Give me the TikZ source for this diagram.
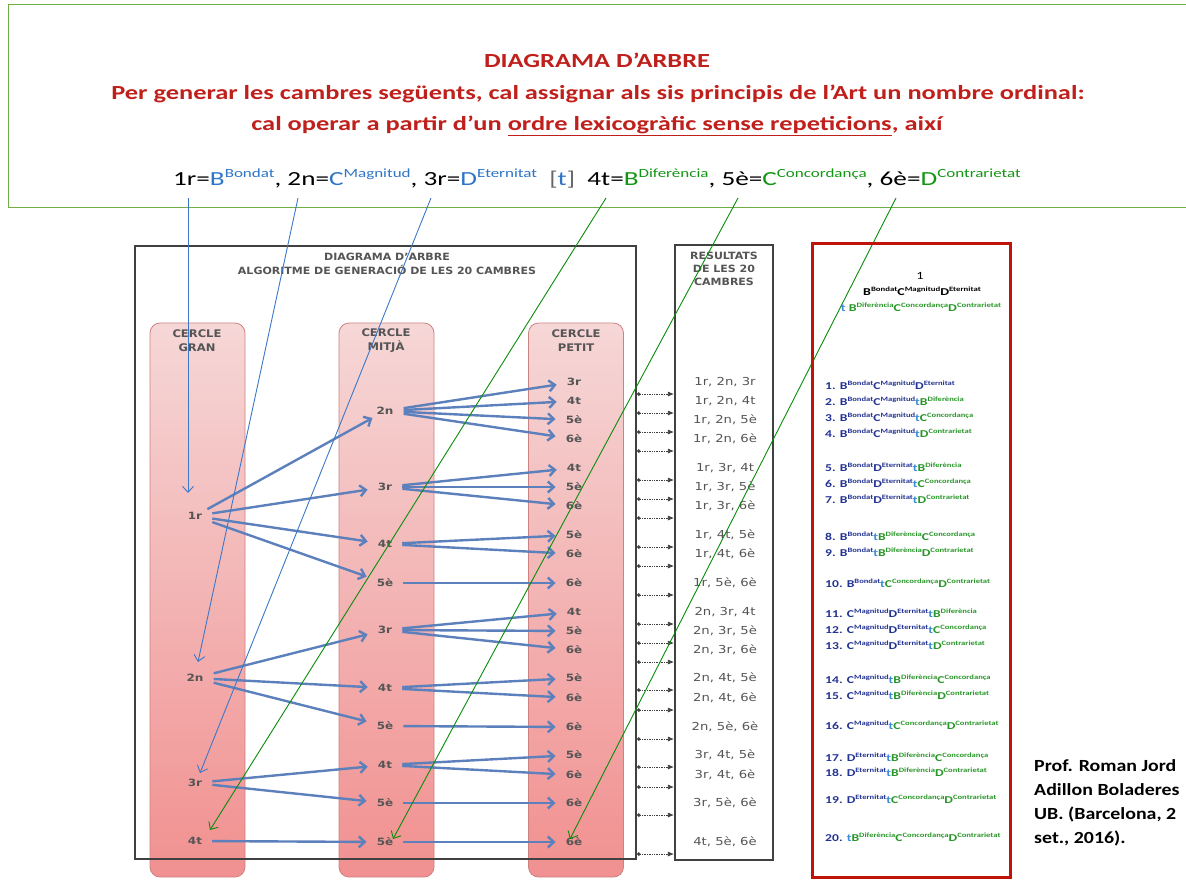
\documentclass[tikz,border=0pt]{standalone}
\usepackage{graphicx}
\usepackage{fontspec}
\setmainfont{Carlito}
\newfontfamily\scanfont{DejaVu Sans}
\usetikzlibrary{arrows.meta,calc}
\definecolor{titred}{RGB}{192,32,28}
\definecolor{frgreen}{RGB}{112,173,71}
\definecolor{hblue}{RGB}{46,117,200}
\definecolor{hgreen}{RGB}{20,150,20}
\definecolor{navy}{RGB}{36,52,146}
\definecolor{tblue}{RGB}{60,140,215}
\definecolor{lgreen}{RGB}{40,150,40}
\definecolor{scangray}{RGB}{85,85,85}
\definecolor{sblue}{RGB}{92,128,188}
\definecolor{pinktop}{RGB}{246,212,212}
\definecolor{pinkbot}{RGB}{240,135,135}
\definecolor{pinkedge}{RGB}{205,130,130}
\definecolor{redbox}{RGB}{192,20,10}
\definecolor{ovgreen}{RGB}{10,140,10}
\definecolor{ovblue}{RGB}{60,120,200}
\newcommand\sx[2]{\scalebox{#1}[1]{#2}}
% superscripts
\newcommand\hsup[1]{\raisebox{0.4em}{\fontsize{12.5}{13}\selectfont #1}}
\newcommand\lsup[1]{\raisebox{0.38em}{\fontsize{6.6}{7}\selectfont #1}}
\newcommand\pB{\textcolor{navy}{B\lsup{Bondat}}}
\newcommand\pC{\textcolor{navy}{C\lsup{Magnitud}}}
\newcommand\pD{\textcolor{navy}{D\lsup{Eternitat}}}
\newcommand\tT{\textcolor{tblue}{t}}
\newcommand\qB{\textcolor{lgreen}{B\lsup{Diferència}}}
\newcommand\qC{\textcolor{lgreen}{C\lsup{Concordança}}}
\newcommand\qD{\textcolor{lgreen}{D\lsup{Contrarietat}}}
\begin{document}
\begin{tikzpicture}[x=1pt,y=-1pt,
  titl/.style={anchor=base,text=titred,font=\fontsize{20}{24}\selectfont\bfseries,inner sep=0pt},
  hdr/.style={anchor=base,font=\fontsize{20}{24}\selectfont,inner sep=0pt},
  col/.style={draw=pinkedge,line width=0.8pt,rounded corners=10pt,top color=pinktop,bottom color=pinkbot,minimum width=95pt,minimum height=554pt,inner sep=0pt,fill opacity=0.92},
  colhd/.style={text=scangray,font=\scanfont\fontsize{10.5}{14}\selectfont\bfseries,align=center,inner sep=0pt},
  lab/.style={text=scangray,font=\scanfont\fontsize{10}{10}\selectfont\bfseries,inner xsep=10pt,inner ysep=3pt},
  res/.style={text=scangray,font=\scanfont\fontsize{11}{11}\selectfont,inner sep=1pt},
  barrow/.style={draw=sblue,line width=2.4pt,-{Straight Barb[length=6pt,width=11pt]}},
  darrow/.style={draw=black!75,line width=0.7pt,densely dotted,{Circle[length=3.5pt]}-{Latex[length=6pt,width=5pt]}},
  ovb/.style={draw=ovblue,line width=0.9pt,-{Straight Barb[length=6pt,width=11pt]}},
  ovg/.style={draw=ovgreen,line width=0.9pt,-{Straight Barb[length=6pt,width=11pt]}},
  item/.style={anchor=west,font=\fontsize{10.5}{12}\selectfont\bfseries,text=navy,inner sep=0pt},
  auth/.style={anchor=base west,font=\fontsize{17}{20}\selectfont\bfseries,inner sep=0pt},
]
\useasboundingbox (0,0) rectangle (1186,879);
% header frame
\draw[frgreen,line width=1pt] (1186,4) -| (8,207) -- (1186,207);
\node[titl] (t1) at (597,67) {\sx{1.32}{DIAGRAMA D’ARBRE}};
\node[titl] (t2) at (598,99) {\sx{1.32}{Per generar les cambres següents, cal assignar als sis principis de l’Art un nombre ordinal:}};
\node[titl] (t3) at (597,130) {\sx{1.32}{cal operar a partir d’un \underline{ordre lexicogràfic sense repeticions}, així}};
\node[hdr] (t4) at (597,185) {\sx{1.36}{1r=\textcolor{hblue}{B\hsup{Bondat}}, 2n=\textcolor{hblue}{C\hsup{Magnitud}}, 3r=\textcolor{hblue}{D\hsup{Eternitat}}\hspace{0.45em}{\color{black!60}[}\textcolor{hblue}{t}{\color{black!60}]}\hspace{0.45em}4t=\textcolor{hgreen}{B\hsup{Diferència}}, 5è=\textcolor{hgreen}{C\hsup{Concordança}}, 6è=\textcolor{hgreen}{D\hsup{Contrarietat}}}};
\coordinate (h1) at (188,198);
\coordinate (h2) at (298,198);
\coordinate (h3) at (431,198);
\coordinate (h4) at (606,198);
\coordinate (h5) at (738,198);
\coordinate (h6) at (896,198);

% scanned diagram
\node[fill=white,minimum width=501pt,minimum height=613pt,inner sep=0pt] (scanbg) at (385.5,552.5) {};
\node[col] (cg) at (197.5,600) {};
\node[col] (cm) at (386.5,600) {};
\node[col] (cp) at (576,600) {};
\node[draw=black!75,line width=2.2pt,minimum width=501pt,minimum height=613pt,inner sep=0pt] (scan) at (385.5,552.5) {};
\node[text=scangray,font=\scanfont\fontsize{10}{10}\selectfont\bfseries,inner sep=0pt] (st1) at (387,257) {\sx{1.1}{DIAGRAMA D’ARBRE}};
\node[text=scangray,font=\scanfont\fontsize{10}{10}\selectfont\bfseries,inner sep=0pt] (st2) at (387,270) {\sx{1.1}{ALGORITME DE GENERACIÓ DE LES 20 CAMBRES}};
\node[colhd] (hg) at (197,341) {\sx{1.1}{CERCLE}\\\sx{1.1}{GRAN}};
\node[colhd] (hm) at (386,341) {\sx{1.1}{CERCLE}\\\sx{1.1}{MITJÀ}};
\node[colhd] (hp) at (576,341) {\sx{1.1}{CERCLE}\\\sx{1.1}{PETIT}};

% gran
\foreach \n/\t/\y in {g1/1r/516,g2/2n/678,g3/3r/783,g4/4t/841}
  \node[lab] (\n) at (195,\y) {\sx{1.2}{\t}};
% mitja
\foreach \n/\t/\y in {m1/2n/411,m2/3r/487,m3/4t/544,m4/5è/583,m5/3r/630,m6/4t/688,m7/5è/726,m8/4t/765,m9/5è/803,m10/5è/842}
  \node[lab] (\n) at (385,\y) {\sx{1.2}{\t}};
% petit
\foreach \n/\t/\y in {p1/3r/382,p2/4t/401,p3/5è/420,p4/6è/439,p5/4t/468,p6/5è/487,p7/6è/506,p8/5è/535,p9/6è/554,p10/6è/583,p11/4t/612,p12/5è/631,p13/6è/650,p14/5è/678,p15/6è/698,p16/6è/727,p17/5è/755,p18/6è/775,p19/6è/803,p20/6è/842}
  \node[lab] (\n) at (574,\y) {\sx{1.2}{\t}};

% results
\node[draw=black!75,line width=2.2pt,minimum width=98pt,minimum height=615pt,inner sep=0pt] (resbox) at (724,552.5) {};
\node[colhd,font=\scanfont\fontsize{10}{13}\selectfont\bfseries] (rh) at (724,269) {\sx{1.1}{RESULTATS}\\\sx{1.1}{DE LES 20}\\\sx{1.1}{CAMBRES}};
\foreach \n/\t/\y in {r1/{1r, 2n, 3r}/382,r2/{1r, 2n, 4t}/401,r3/{1r, 2n, 5è}/420,r4/{1r, 2n, 6è}/439,r5/{1r, 3r, 4t}/468,r6/{1r, 3r, 5è}/487,r7/{1r, 3r, 6è}/506,r8/{1r, 4t, 5è}/535,r9/{1r, 4t, 6è}/554,r10/{1r, 5è, 6è}/583,r11/{2n, 3r, 4t}/612,r12/{2n, 3r, 5è}/631,r13/{2n, 3r, 6è}/650,r14/{2n, 4t, 5è}/678,r15/{2n, 4t, 6è}/698,r16/{2n, 5è, 6è}/727,r17/{3r, 4t, 5è}/755,r18/{3r, 4t, 6è}/775,r19/{3r, 5è, 6è}/803,r20/{4t, 5è, 6è}/842}
  \node[res] (\n) at (725,\y) {\sx{1.2}{\t}};
\foreach \k in {1,...,20}
  \draw[darrow] ([yshift=-12pt]p\k -| scan.east) -- ([yshift=-12pt]p\k -| resbox.west);

% tree arrows
\foreach \a/\b in {g1/m1,g1/m2,g1/m3,g1/m4,g2/m5,g2/m6,g2/m7,g3/m8,g3/m9,g4/m10,
  m1/p1,m1/p2,m1/p3,m1/p4,m2/p5,m2/p6,m2/p7,m3/p8,m3/p9,m4/p10,
  m5/p11,m5/p12,m5/p13,m6/p14,m6/p15,m7/p16,m8/p17,m8/p18,m9/p19,m10/p20}
  \draw[barrow] (\a) -- (\b);

% overlay arrows
\draw[ovb] (h1) -- ([shift={(-7,-23)}]g1.center);
\draw[ovb] (h2) -- ([shift={(3,-16)}]g2.center);
\draw[ovb] (h3) -- ([shift={(5,-10)}]g3.center);
\draw[ovg] (h4) -- ([shift={(15,-11)}]g4.center);
\draw[ovg] (h5) -- ([shift={(8,-3)}]m10.center);
\draw[ovg] (h6) -- ([shift={(-4,-3)}]p20.center);

% red list box
\node[draw=redbox,line width=3pt,minimum width=198pt,minimum height=634pt,inner sep=0pt] (lst) at (911,560) {};
\node[font=\fontsize{11}{12}\selectfont,inner sep=0pt] (n1) at (920,276) {\sx{1.3}{1}};
\node[font=\fontsize{10.5}{12}\selectfont\bfseries,inner sep=0pt,anchor=base] (blk) at (922,295) {\sx{1.33}{B\lsup{Bondat}C\lsup{Magnitud}D\lsup{Eternitat}}};
\node[font=\fontsize{10.5}{12}\selectfont\bfseries,inner sep=0pt,anchor=base] (grn) at (921,311) {\sx{1.33}{\tT\ \qB\qC\qD}};
\foreach \n/\y/\c in {l1/385/{1. \pB\pC\pD},
  l2/401/{2. \pB\pC\tT\qB},
  l3/417/{3. \pB\pC\tT\qC},
  l4/433/{4. \pB\pC\tT\qD},
  l5/467/{5. \pB\pD\tT\qB},
  l6/483/{6. \pB\pD\tT\qC},
  l7/499/{7. \pB\pD\tT\qD},
  l8/536/{8. \pB\tT\qB\qC},
  l9/552/{9. \pB\tT\qB\qD},
  l10/583/{10. \pB\tT\qC\qD},
  l11/613/{11. \pC\pD\tT\qB},
  l12/629/{12. \pC\pD\tT\qC},
  l13/645/{13. \pC\pD\tT\qD},
  l14/679/{14. \pC\tT\qB\qC},
  l15/695/{15. \pC\tT\qB\qD},
  l16/725/{16. \pC\tT\qC\qD},
  l17/757/{17. \pD\tT\qB\qC},
  l18/772/{18. \pD\tT\qB\qD},
  l19/799/{19. \pD\tT\qC\qD},
  l20/837/{20. \tT\qB\qC\qD}}
  \node[item] (\n) at (825,\y) {\sx{1.3}{\c}};

% author
\node[auth] (au1) at (1034,771) {\sx{1.17}{Prof. Roman Jord}};
\node[auth] (au2) at (1034,795) {\sx{1.17}{Adillon Boladeres}};
\node[auth] (au3) at (1034,819) {\sx{1.17}{UB. (Barcelona, 2}};
\node[auth] (au4) at (1034,843) {\sx{1.17}{set., 2016).}};
\end{tikzpicture}
\end{document}
